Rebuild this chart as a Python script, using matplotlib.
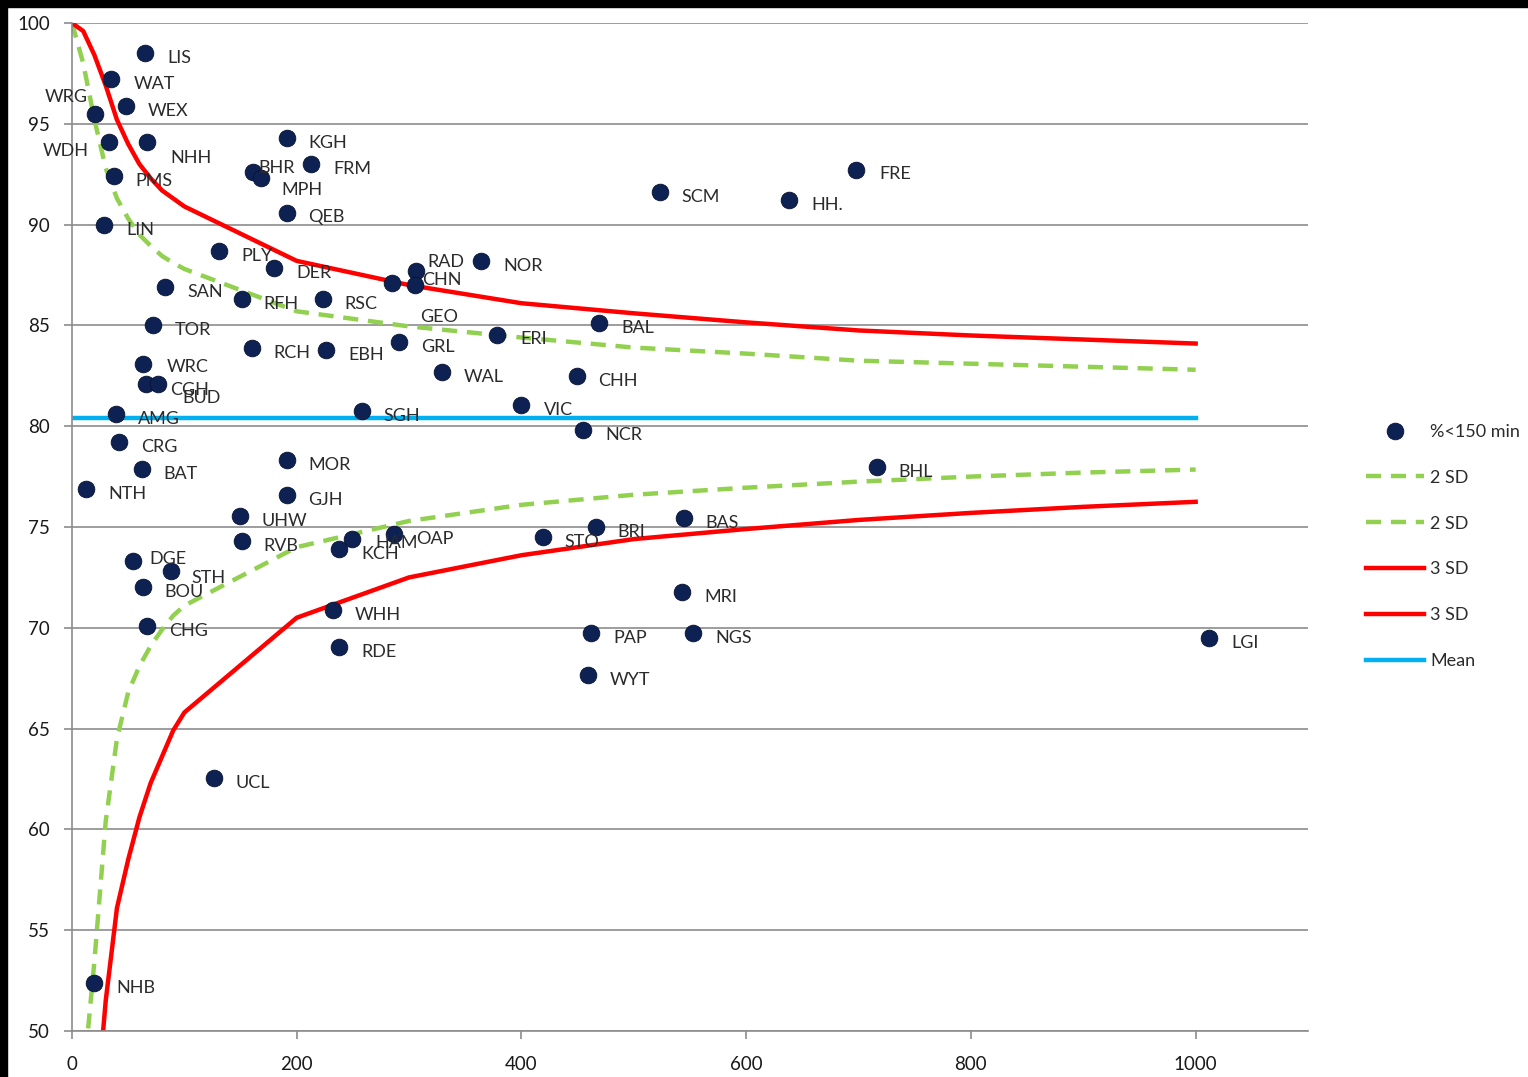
import matplotlib
matplotlib.use("Agg")
import matplotlib.pyplot as plt
from matplotlib.patches import Rectangle

plt.rcParams['font.family'] = ['Lato', 'DejaVu Sans']

# ---- data -------------------------------------------------------------
names = ["LIS", "WAT", "WEX", "WRG", "WDH", "NHH", "PMS", "LIN", "KGH", "BHR",
         "MPH", "FRM", "QEB", "SCM", "HH.", "FRE", "PLY", "DER", "SAN", "RFH",
         "RSC", "RAD", "CHN", "GEO", "NOR", "BAL", "ERI", "GRL", "TOR", "RCH",
         "EBH", "WAL", "CHH", "WRC", "CGH", "BUD", "AMG", "SGH", "VIC", "NCR",
         "CRG", "BAT", "NTH", "MOR", "GJH", "BHL", "UHW", "RVB", "HAM", "KCH",
         "OAP", "STO", "BRI", "BAS", "DGE", "STH", "BOU", "CHG", "MRI", "WHH",
         "RDE", "PAP", "NGS", "LGI", "WYT", "UCL", "NHB"]
volume = [65, 35, 48, 20.5, 33, 67, 37, 28.5, 191, 161,
          168, 213, 191, 523, 638, 698, 131, 180, 83, 151,
          223, 306, 305, 285, 364, 469, 378, 291, 72, 160,
          226, 329, 449, 63, 66, 76.5, 39, 258, 400, 455,
          42, 62, 12.5, 191, 191, 716, 149.5, 151, 249, 238,
          286.5, 419, 466, 544.5, 54, 88, 63, 67, 543, 232,
          238, 462, 553, 1012, 459, 126, 19.5]
pct_150 = [98.5, 97.2, 95.9, 95.5, 94.1, 94.1, 92.4, 90.0, 94.3, 92.6,
           92.3, 93.0, 90.6, 91.6, 91.2, 92.7, 88.7, 87.85, 86.9, 86.3,
           86.3, 87.7, 87.0, 87.1, 88.2, 85.1, 84.5, 84.2, 85.0, 83.9,
           83.8, 82.7, 82.5, 83.1, 82.1, 82.1, 80.6, 80.75, 81.05, 79.8,
           79.2, 77.9, 76.9, 78.3, 76.6, 78.0, 75.55, 74.3, 74.4, 73.9,
           74.65, 74.5, 75.0, 75.45, 73.3, 72.8, 72.0, 70.1, 71.8, 70.9,
           69.05, 69.75, 69.75, 69.5, 67.65, 62.55, 52.4]

limit_n = [0, 10, 20, 30, 40, 50, 60, 70, 80, 90, 100,
           200, 300, 400, 500, 600, 700, 800, 900, 1000]
upper_2sd = [100, 98.0, 95.2, 92.8, 91.3, 90.3, 89.5, 88.95, 88.45, 88.1, 87.8,
             85.7, 84.95, 84.4, 83.9, 83.6, 83.25, 83.1, 82.95, 82.8]
lower_2sd = [None, 47.5, 53.5, 60.4, 64.5, 66.8, 68.1, 69.1, 69.9, 70.6, 71.1,
             74.0, 75.3, 76.1, 76.6, 76.95, 77.25, 77.5, 77.7, 77.85]
upper_3sd = [100, 99.6, 98.4, 96.9, 95.2, 94.0, 93.0, 92.3, 91.7, 91.3, 90.9,
             88.2, 87.0, 86.1, 85.6, 85.15, 84.75, 84.5, 84.3, 84.1]
lower_3sd = [None, None, 45.0, 51.5, 56.1, 58.5, 60.6, 62.3, 63.6, 64.9, 65.8,
             70.5, 72.5, 73.6, 74.4, 74.9, 75.35, 75.7, 76.0, 76.25]
mean_x = [0, 1000]
mean_y = [80.4, 80.4]

x_ticks = [0, 200, 400, 600, 800, 1000]
y_ticks = [50, 55, 60, 65, 70, 75, 80, 85, 90, 95, 100]

# label offsets in pixels (dx, dy) relative to each marker, dy positive = up
default_off = (22, -5)
special_off = {"WRG": (-50, 17), "WDH": (-66, -9), "NHH": (23, -16),
               "BHR": (5, 4), "MPH": (21, -12), "RAD": (12, 9),
               "CHN": (7, 5), "GEO": (28, -34), "BUD": (24, -14),
               "WRC": (24, -3), "DGE": (17, 2), "STH": (21, -7),
               "HAM": (24, -4), "ERI": (24, -4), "QEB": (22, -4),
               "FRE": (23, -4), "CGH": (24, -6)}

# ---- figure -----------------------------------------------------------
W, H = 1528, 1077
fig = plt.figure(figsize=(W / 100, H / 100), dpi=100)
fig.patch.set_facecolor("white")
ax = fig.add_axes([72 / W, 1 - 1031 / H, (1308 - 72) / W, (1031 - 23) / H])

grid_c = "#8c8c8c"
for yv in y_ticks:
    ax.axhline(yv, color=grid_c, lw=1.2, zorder=1)

def seg(xs, ys):
    pts = [(a, b) for a, b in zip(xs, ys) if b is not None]
    return [p[0] for p in pts], [p[1] for p in pts]

green = "#92D050"
red = "#FF0000"
blue = "#00B0F0"

sc, = ax.plot(volume, pct_150, 'o', color="#0d2152", ms=12,
              mec="#07122e", mew=0.6, zorder=4, label="%<150 min")
gx, gy = seg(limit_n, upper_2sd)
l1, = ax.plot(gx, gy, color=green, lw=3.2, dashes=(3.4, 2.2), zorder=2, label="2 SD")
gx, gy = seg(limit_n, lower_2sd)
l2, = ax.plot(gx, gy, color=green, lw=3.2, dashes=(3.4, 2.2), zorder=2, label="2 SD")
rx, ry = seg(limit_n, upper_3sd)
l3, = ax.plot(rx, ry, color=red, lw=3.2, zorder=2, label="3 SD")
rx, ry = seg(limit_n, lower_3sd)
l4, = ax.plot(rx, ry, color=red, lw=3.2, zorder=2, label="3 SD")
l5, = ax.plot(mean_x, mean_y, color=blue, lw=3.2, zorder=2, label="Mean")

for nm, xv, yv in zip(names, volume, pct_150):
    dx, dy = special_off.get(nm, default_off)
    ax.annotate(nm, (xv, yv), xytext=(dx, dy), textcoords="offset pixels",
                ha="left", va="center", fontsize=13, color="#2b2b2b", zorder=5)

ax.set_xlim(0, 1100)
ax.set_ylim(50, 100)
ax.set_xticks(x_ticks)
ax.set_yticks(y_ticks)
ax.tick_params(axis="both", colors=grid_c, length=6, width=1.2, labelsize=13.5,
               labelcolor="#1a1a1a")
ax.tick_params(axis="y", pad=10)
ax.tick_params(axis="x", pad=12)
for s in ["top", "right"]:
    ax.spines[s].set_visible(False)
for s in ["left", "bottom"]:
    ax.spines[s].set_color(grid_c)
    ax.spines[s].set_linewidth(1.2)

leg = fig.legend(handles=[sc, l1, l2, l3, l4, l5], loc="upper left",
                 bbox_to_anchor=(1366 / W, 1 - 424 / H), frameon=False,
                 fontsize=13, handlelength=3.2, handletextpad=0.35,
                 labelspacing=1.65, borderpad=0, borderaxespad=0)
for t in leg.get_texts():
    t.set_color("#2b2b2b")

# black border strips of the original screenshot
fig.patches.append(Rectangle((0, 1 - 7 / H), 1, 7 / H, transform=fig.transFigure,
                             color="black", zorder=10))
fig.patches.append(Rectangle((0, 0), 7 / W, 1, transform=fig.transFigure,
                             color="black", zorder=10))

fig.savefig("out.png", dpi=100, facecolor="white")
